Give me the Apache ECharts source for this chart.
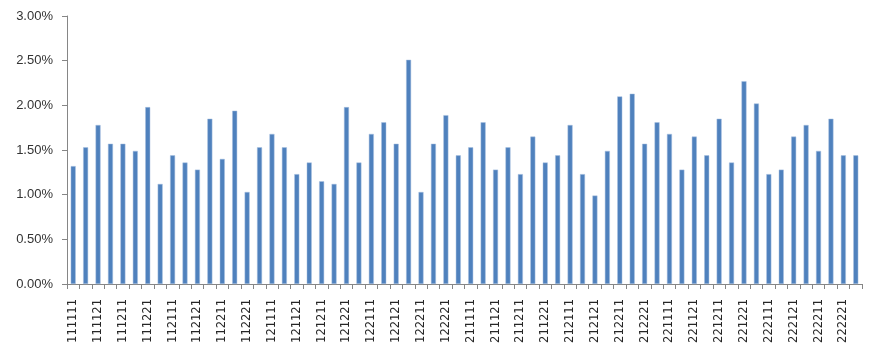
<!DOCTYPE html>
<html>
<head>
<meta charset="utf-8">
<script src="https://cdn.jsdelivr.net/npm/echarts@6/dist/echarts.min.js"></script>
<style>html,body{margin:0;padding:0;background:#fff}#c{width:873px;height:360px}</style>
</head>
<body>
<div id="c"></div>
<script>
// categories: all 6-digit combos of 1/2, listed explicitly
const categories = [
"111111","111112","111121","111122","111211","111212","111221","111222",
"112111","112112","112121","112122","112211","112212","112221","112222",
"121111","121112","121121","121122","121211","121212","121221","121222",
"122111","122112","122121","122122","122211","122212","122221","122222",
"211111","211112","211121","211122","211211","211212","211221","211222",
"212111","212112","212121","212122","212211","212212","212221","212222",
"221111","221112","221121","221122","221211","221212","221221","221222",
"222111","222112","222121","222122","222211","222212","222221","222222"
];
// values in percent
const values = [
1.32,1.53,1.78,1.57,1.57,1.49,1.98,1.12,
1.44,1.36,1.28,1.85,1.40,1.94,1.03,1.53,
1.68,1.53,1.23,1.36,1.15,1.12,1.98,1.36,
1.68,1.81,1.57,2.51,1.03,1.57,1.89,1.44,
1.53,1.81,1.28,1.53,1.23,1.65,1.36,1.44,
1.78,1.23,0.99,1.49,2.10,2.13,1.57,1.81,
1.68,1.28,1.65,1.44,1.85,1.36,2.27,2.02,
1.23,1.28,1.65,1.78,1.49,1.85,1.44,1.44
];
const yTicks = {min: 0, max: 3, interval: 0.5};

const chart = echarts.init(document.getElementById('c'), null, {renderer: 'canvas'});
chart.setOption({
  animation: false,
  grid: {left: 67, right: 11, top: 16, bottom: 76, containLabel: false},
  xAxis: {
    type: 'category',
    data: categories,
    axisLine: {lineStyle: {color: '#868686', width: 1}},
    axisTick: {show: true, interval: 0, length: 5, lineStyle: {color: '#868686'}},
    axisLabel: {
      interval: 1, rotate: 90, margin: 15,
      fontFamily: 'DejaVu Sans', fontSize: 11.5, color: '#262626'
    }
  },
  yAxis: {
    type: 'value',
    min: yTicks.min, max: yTicks.max, interval: yTicks.interval,
    axisLine: {show: true, lineStyle: {color: '#868686', width: 1}},
    axisTick: {show: true, length: 5, lineStyle: {color: '#868686'}},
    splitLine: {show: false},
    axisLabel: {
      formatter: v => v.toFixed(2) + '%',
      fontFamily: 'Liberation Sans', fontSize: 13, color: '#333333', margin: 14
    }
  },
  series: [{
    type: 'bar',
    data: values,
    barWidth: 5,
    itemStyle: {color: '#4F81BD', borderColor: '#a9c1e0', borderWidth: 0.5}
  }]
});
</script>
</body>
</html>
